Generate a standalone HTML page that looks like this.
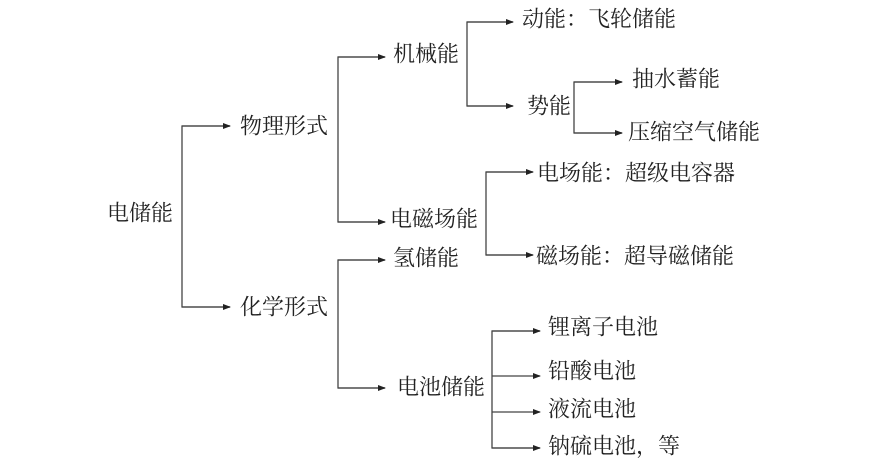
<!DOCTYPE html>
<html><head><meta charset="utf-8"><style>
html,body{margin:0;padding:0;background:#fff;}
svg{display:block;}
text{font-family:"Liberation Serif","Noto Serif CJK SC",serif;font-size:22px;fill:#222;dominant-baseline:central;}
</style></head><body>
<svg width="878" height="471" viewBox="0 0 878 471">
<defs><marker id="a" markerWidth="8" markerHeight="8" refX="7" refY="4" orient="auto" markerUnits="userSpaceOnUse"><path d="M0,1 L8,4 L0,7 Z" fill="#222"/></marker></defs>
<g stroke="#444" stroke-width="1.3" fill="none">
<path d="M230,126 H182 V307 H230" />
<path d="M182,126 H230" marker-end="url(#a)"/><path d="M182,307 H230" marker-end="url(#a)"/>
<path d="M385,57 H338 V222 H385"/>
<path d="M338,57 H385" marker-end="url(#a)"/><path d="M338,222 H385" marker-end="url(#a)"/>
<path d="M513,22 H467 V106 H513"/>
<path d="M467,22 H513" marker-end="url(#a)"/><path d="M467,106 H513" marker-end="url(#a)"/>
<path d="M622,82 H574 V133 H622"/>
<path d="M574,82 H622" marker-end="url(#a)"/><path d="M574,133 H622" marker-end="url(#a)"/>
<path d="M533,172 H486 V255 H533"/>
<path d="M486,172 H533" marker-end="url(#a)"/><path d="M486,255 H533" marker-end="url(#a)"/>
<path d="M385,260 H338 V388 H385"/>
<path d="M338,260 H385" marker-end="url(#a)"/><path d="M338,388 H385" marker-end="url(#a)"/>
<path d="M540,331 H492 V448 H540"/>
<path d="M492,331 H540" marker-end="url(#a)"/><path d="M492,376 H540" marker-end="url(#a)"/>
<path d="M492,412 H540" marker-end="url(#a)"/><path d="M492,448 H540" marker-end="url(#a)"/>
</g>
<text x="107" y="213">电储能</text>
<text x="240" y="126">物理形式</text>
<text x="240" y="307">化学形式</text>
<text x="393" y="54">机械能</text>
<text x="390" y="219">电磁场能</text>
<text x="393" y="258">氢储能</text>
<text x="397" y="387">电池储能</text>
<text x="522" y="19">动能：飞轮储能</text>
<text x="527" y="106">势能</text>
<text x="632" y="79">抽水蓄能</text>
<text x="628" y="132">压缩空气储能</text>
<text x="537" y="173">电场能：超级电容器</text>
<text x="536" y="256">磁场能：超导磁储能</text>
<text x="548" y="327">锂离子电池</text>
<text x="548" y="371">铅酸电池</text>
<text x="548" y="409">液流电池</text>
<text x="548" y="446">钠硫电池，等</text>
</svg>
</body></html>
